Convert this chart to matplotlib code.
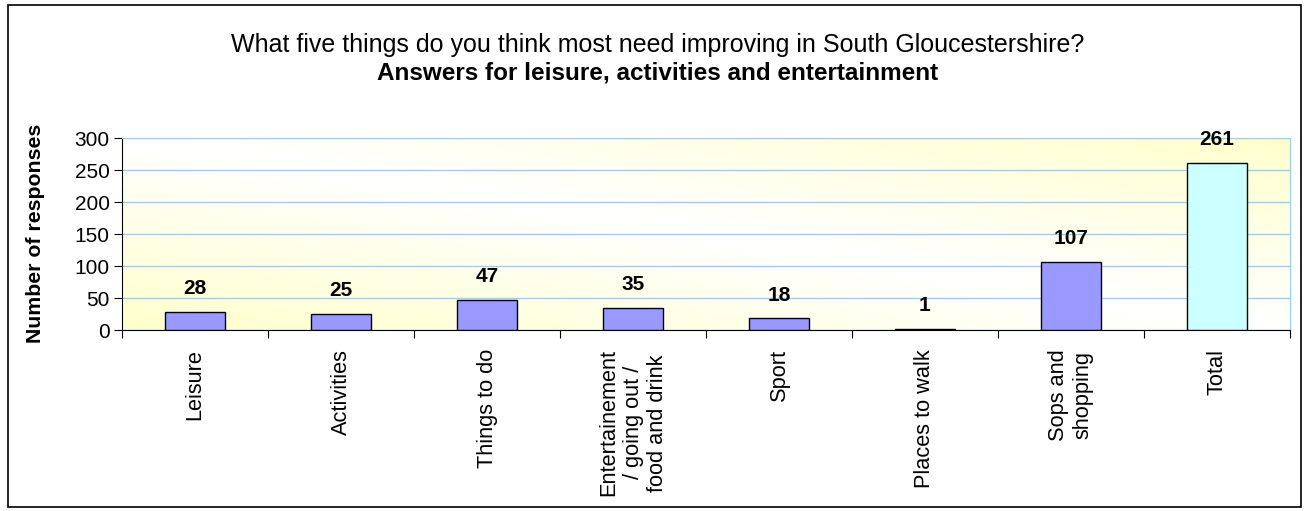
import matplotlib
matplotlib.use("Agg")
import matplotlib.pyplot as plt
import numpy as np
from matplotlib.patches import Rectangle
from matplotlib.colors import LinearSegmentedColormap

categories = ["Leisure", "Activities", "Things to do",
              "Entertainement\n/ going out /\nfood and drink",
              "Sport", "Places to walk", "Sops and\nshopping", "Total"]
values = [28, 25, 47, 35, 18, 1, 107, 261]
bar_colors = ["#9999FF"] * 7 + ["#CCFFFF"]
yticks = [0, 50, 100, 150, 200, 250, 300]

plt.rcParams['font.family'] = ['Liberation Sans', 'DejaVu Sans']

fig = plt.figure(figsize=(13.09, 5.11), dpi=100)
fig.patches.append(Rectangle((8/1309, 1-507/511), (1301-8)/1309, (507-5)/511,
                             transform=fig.transFigure, fill=False,
                             edgecolor="black", linewidth=1.2))

ax = fig.add_axes([122/1309, 1-330/511, (1290-122)/1309, (330-138)/511])

# gradient background
n = 200
xx, yy = np.meshgrid(np.linspace(0, 1, n), np.linspace(0, 1, n))
d = (xx + (1 - yy)) / 2.0  # 0 at top-left, 1 at bottom-right
g = np.abs(d - 0.5) * 2
cmap = LinearSegmentedColormap.from_list("bg", ["#FFFFFF", "#FFFFCC"])
ax.imshow(g, extent=[-0.5, len(values) - 0.5, 0, 300], origin="upper",
          aspect="auto", cmap=cmap, vmin=0, vmax=1, zorder=0)

x = np.arange(len(values))
ax.bar(x, values, width=0.41, color=bar_colors, edgecolor="black",
       linewidth=1.0, zorder=3)
for xi, v in zip(x, values):
    ax.annotate(str(v), (xi, v), xytext=(0, 10), textcoords="offset points",
                ha="center", va="bottom", fontsize=15, fontweight="bold", zorder=4)

ax.set_xlim(-0.5, len(values) - 0.5)
ax.set_ylim(0, 300)
ax.set_yticks(yticks)
ax.tick_params(axis="y", labelsize=15, length=6, direction="out", pad=3)
ax.yaxis.grid(True, color="#99CCFF", linewidth=1.0, zorder=1)
ax.set_axisbelow(True)

ax.set_xticks(np.arange(len(values) + 1) - 0.5, minor=False)
ax.set_xticklabels([])
ax.tick_params(axis="x", length=6, direction="out")
for xi, lab in zip(x, categories):
    ax.text(xi, -0.10, lab, transform=ax.get_xaxis_transform(),
            rotation=90, ha="center", va="top", fontsize=15.7,
            multialignment="center", linespacing=1.2)

ax.spines["left"].set_color("black")
ax.spines["bottom"].set_color("black")
ax.spines["top"].set_color("#99CCFF")
ax.spines["right"].set_color("#99CCFF")

ax.set_ylabel("Number of responses", fontsize=15.3, fontweight="bold")
ax.yaxis.set_label_coords(45/1309, 1-233/511, transform=fig.transFigure)

fig.text(658/1309, 1-45/511, "What five things do you think most need improving in South Gloucestershire?",
         ha="center", va="center", fontsize=18)
fig.text(658/1309, 1-73/511, "Answers for leisure, activities and entertainment",
         ha="center", va="center", fontsize=17.5, fontweight="bold")

fig.savefig("out.png", dpi=100)
